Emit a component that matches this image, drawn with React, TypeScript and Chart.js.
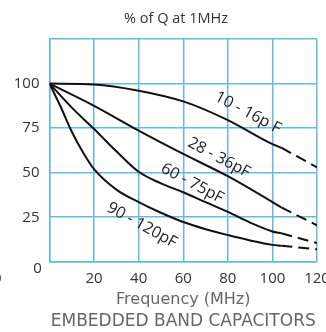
import { useEffect, useRef } from "react";
import { Chart, registerables } from "chart.js";

Chart.register(...registerables);

// ---- data ----
const freq10 = [0, 20, 40, 60, 80, 100, 104];
const q10 = [100, 99.5, 96, 90, 79.5, 66, 64];
const freq10Dash = [104, 120];
const q10Dash = [64, 53];

const freq28 = [0, 20, 40, 60, 80, 100, 104];
const q28 = [100, 87.5, 73.6, 60.5, 48, 33.5, 30.5];
const freq28Dash = [104, 120];
const q28Dash = [30.5, 20.5];

const freq60 = [0, 10, 20, 30, 40, 50, 60, 70, 80, 90, 100, 104];
const q60 = [100, 86.5, 74.5, 62, 50.5, 44, 39, 33.5, 28, 22, 17, 16];
const freq60Dash = [104, 120];
const q60Dash = [16, 10.5];

const freq90 = [0, 5, 10, 15, 20, 30, 40, 50, 60, 70, 80, 90, 100, 104];
const q90 = [100, 87, 73, 61.5, 52, 40.5, 33.5, 27.5, 22.3, 18.3, 15, 12, 9.5, 9];
const freq90Dash = [104, 120];
const q90Dash = [9, 7];

const seriesNames = ["10 - 16p F", "28 - 36pF", "60 - 75pF", "90 - 120pF"];
const titleText = "% of Q at 1MHz";
const xTitle = "Frequency (MHz)";
const caption = "EMBEDDED BAND CAPACITORS";

const FONT = '"Open Sans", sans-serif';
const WIDE = '"DejaVu Sans", sans-serif';
const GRID = "#62bbe3";

const pts = (xs: number[], ys: number[]) => xs.map((x, i) => ({ x, y: ys[i] }));

const labelPlugin = {
  id: "curveLabels",
  afterDatasetsDraw(chart: any) {
    const { ctx, scales, chartArea } = chart;
    const x = scales.x;
    const y = scales.y;
    const spots = [
      { fx: 89, fq: 83.6, a: 28 },
      { fx: 76, fq: 58.4, a: 28 },
      { fx: 64, fq: 44, a: 28 },
      { fx: 41.5, fq: 20.5, a: 29 },
    ];
    ctx.save();
    ctx.fillStyle = "#222";
    ctx.font = `16px ${FONT}`;
    ctx.textAlign = "center";
    ctx.textBaseline = "middle";
    spots.forEach((s, i) => {
      ctx.save();
      ctx.translate(x.getPixelForValue(s.fx), y.getPixelForValue(s.fq));
      ctx.rotate((s.a * Math.PI) / 180);
      ctx.fillText(seriesNames[i], 0, 0);
      ctx.restore();
    });
    // title
    ctx.fillStyle = "#333";
    ctx.font = `14.5px ${FONT}`;
    ctx.fillText(titleText, 176, 19);
    // stray zero labels
    ctx.font = `15px ${FONT}`;
    ctx.fillText("0", chartArea.left - 12, y.getPixelForValue(0) + 6.5);
    ctx.textAlign = "right";
    ctx.fillText("0", 1.5, y.getPixelForValue(0) + 17.3);
    ctx.restore();
  },
};

export default function App() {
  const ref = useRef<HTMLCanvasElement>(null);
  useEffect(() => {
    const solid = { borderColor: "#111", borderWidth: 2, pointRadius: 0, cubicInterpolationMode: "monotone" as const, fill: false };
    const dashed = { ...solid, borderDash: [11, 6] };
    const chart = new Chart(ref.current!, {
      type: "line",
      data: {
        datasets: [
          { label: seriesNames[0], data: pts(freq10, q10), ...solid },
          { label: seriesNames[0], data: pts(freq10Dash, q10Dash), ...dashed },
          { label: seriesNames[1], data: pts(freq28, q28), ...solid },
          { label: seriesNames[1], data: pts(freq28Dash, q28Dash), ...dashed },
          { label: seriesNames[2], data: pts(freq60, q60), ...solid },
          { label: seriesNames[2], data: pts(freq60Dash, q60Dash), ...dashed },
          { label: seriesNames[3], data: pts(freq90, q90), ...solid },
          { label: seriesNames[3], data: pts(freq90Dash, q90Dash), ...dashed },
        ] as any,
      },
      options: {
        animation: false,
        responsive: false,
        devicePixelRatio: 1,
        layout: { padding: { left: 0, right: 9, top: 39, bottom: 0 } },
        plugins: {
          legend: { display: false },
          tooltip: { enabled: false },
          title: { display: false },
          subtitle: {
            display: true,
            position: "bottom",
            fullSize: false,
            text: caption,
            color: "#666",
            font: { family: WIDE, size: 17, weight: "normal", lineHeight: 1.2 },
            padding: { top: 0, bottom: 0 },
          },
        },
        scales: {
          x: {
            type: "linear",
            min: 0,
            max: 120,
            ticks: {
              stepSize: 20,
              autoSkip: false,
              maxRotation: 0,
              padding: 8.3,
              color: "#333",
              font: { family: FONT, size: 15 },
              callback: (v: any) => (v === 0 ? "" : String(v)),
            },
            grid: { color: GRID, lineWidth: 1.5, drawTicks: false },
            border: { display: true, color: GRID, width: 1.5 },
            title: {
              display: true,
              text: xTitle,
              color: "#666",
              font: { family: WIDE, size: 16, lineHeight: 1.2 },
              padding: { top: 0, bottom: 1.9 },
            },
            afterFit: (s: any) => {
              s.height = 49.8;
              s.paddingLeft = 0;
              s.paddingRight = 0;
            },
          },
          y: {
            type: "linear",
            min: 0,
            max: 125,
            ticks: {
              stepSize: 25,
              padding: 10,
              color: "#333",
              font: { family: FONT, size: 15 },
              callback: (v: any) => (v === 0 || v === 125 ? "" : String(v)),
            },
            grid: { color: GRID, lineWidth: 1.5, drawTicks: false },
            border: { display: true, color: GRID, width: 1.5 },
            afterFit: (s: any) => {
              s.width = 49.5;
              s.paddingTop = 0;
              s.paddingBottom = 0;
            },
          },
        },
      } as any,
      plugins: [labelPlugin],
    });
    return () => chart.destroy();
  }, []);
  return (
    <div style={{ position: "fixed", left: 0, top: 0, width: 326, height: 332 }}>
      <canvas ref={ref} width={326} height={332} style={{ width: 326, height: 332, display: "block" }} />
    </div>
  );
}
